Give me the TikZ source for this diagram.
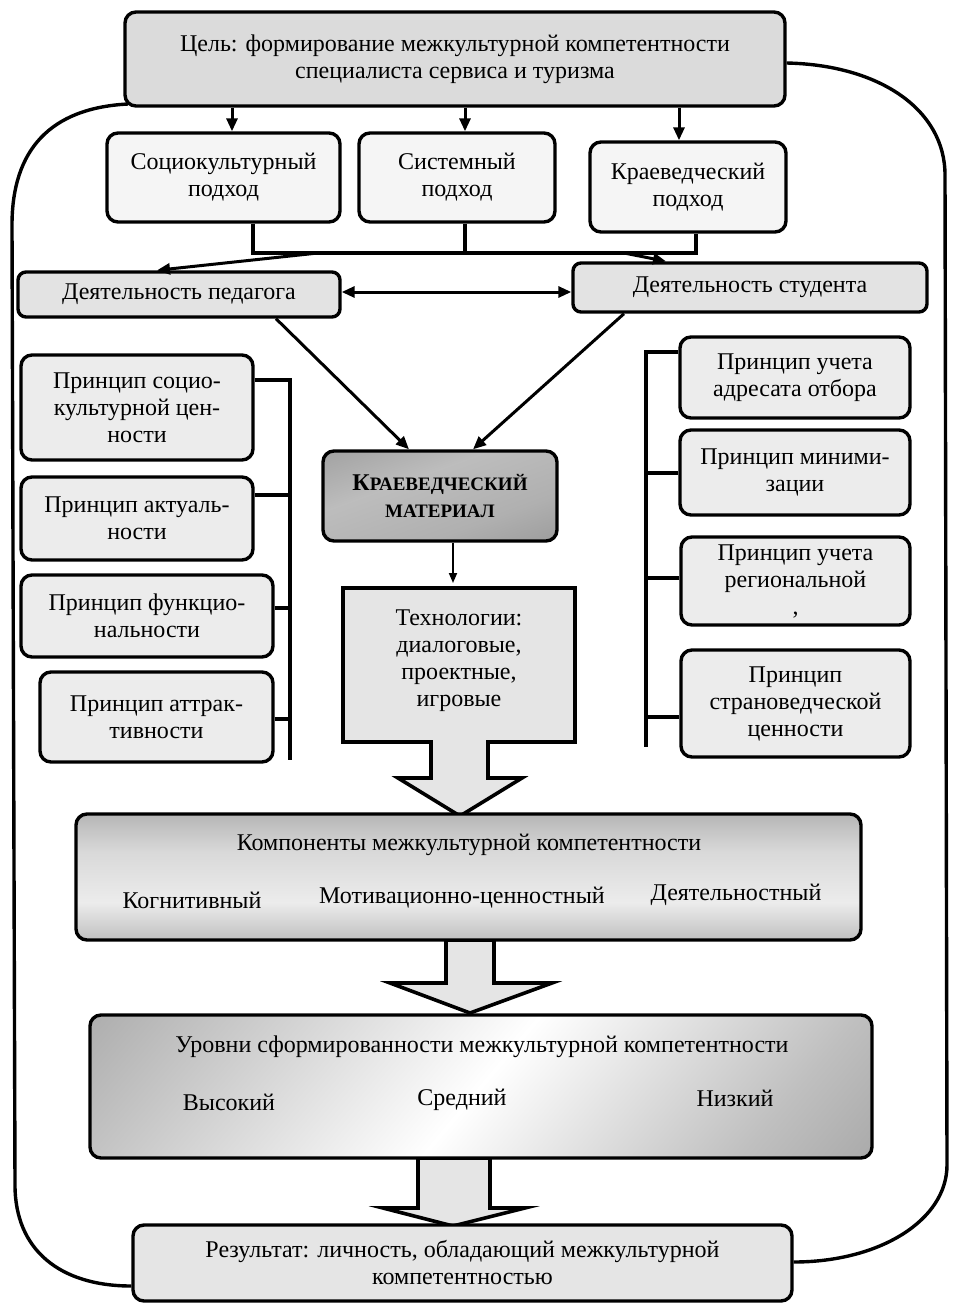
\documentclass[tikz,border=0pt]{standalone}
\usepackage{fontspec}
\setmainfont{Liberation Serif}
\usetikzlibrary{arrows.meta,calc,backgrounds}
\newcommand\fs{\fontsize{24}{27}\selectfont}
\pgfdeclareverticalshading{compsh}{100bp}{color(0bp)=(gray!95); color(15bp)=(gray!72); color(40bp)=(gray!15); color(60bp)=(gray!30); color(82bp)=(gray!70); color(100bp)=(gray!92)}
\pgfdeclareverticalshading{lvsh}{100bp}{color(0bp)=(gray!90); color(25bp)=(gray!50); color(50bp)=(white); color(72bp)=(gray!40); color(100bp)=(gray!90)}
\pgfdeclareverticalshading{matsh}{100bp}{color(0bp)=(gray!92); color(35bp)=(gray!62); color(60bp)=(gray!52); color(100bp)=(gray!90)}
\begin{document}
\begin{tikzpicture}[x=1pt,y=-1pt,
  bx/.style={draw, line width=3.4pt, rounded corners=11pt, inner sep=0pt, align=center, font=\fs},
  ln/.style={line width=3.4pt},
  arr/.style={line width=3pt, -{Triangle[length=13pt,width=11pt]}},
  thin arr/.style={line width=1.8pt, -{Triangle[length=10pt,width=8pt]}},
  blk/.style={draw, line width=3.6pt, fill=gray!20, line join=miter},
  lbl/.style={inner sep=0pt, font=\fs, align=center}]
\useasboundingbox (0,0) rectangle (956,1315);

% ---------- nodes ----------
\node[bx, fill=gray!28, minimum width=660pt, minimum height=94pt] (goal) at (455,59)
  {Цель: формирование межкультурной компетентности\\специалиста сервиса и туризма};
\node[bx, fill=gray!8, minimum width=233pt, minimum height=89pt] (a1) at (223.5,177.5) {Социокультурный\\подход};
\node[bx, fill=gray!8, minimum width=196pt, minimum height=89pt] (a2) at (457,177.5) {Системный\\подход};
\node[bx, fill=gray!8, minimum width=196pt, minimum height=90pt] (a3) at (688,187) {Краеведческий\\подход};

\node[bx, fill=gray!22, rounded corners=8pt, minimum width=322pt, minimum height=45pt] (ped) at (179,294.5) {Деятельность педагога};
\node[bx, fill=gray!22, rounded corners=8pt, minimum width=354pt, minimum height=49pt] (stu) at (750,287.5) {Деятельность студента};

\node[bx, fill=gray!15, minimum width=232pt, minimum height=105pt] (p1) at (137,407.5) {Принцип социо-\\культурной цен-\\ности};
\node[bx, fill=gray!15, minimum width=232pt, minimum height=83pt] (p2) at (137,518.5) {Принцип актуаль-\\ности};
\node[bx, fill=gray!15, minimum width=252pt, minimum height=82pt] (p3) at (147,616) {Принцип функцио-\\нальности};
\node[bx, fill=gray!15, minimum width=233pt, minimum height=90pt] (p4) at (156.5,717) {Принцип аттрак-\\тивности};

\node[bx, fill=gray!15, minimum width=230pt, minimum height=81pt] (r1) at (795,377.5) {Принцип учета\\адресата отбора};
\node[bx, fill=gray!15, minimum width=230pt, minimum height=85pt] (r2) at (795,472.5) {Принцип миними-\\зации};
\node[bx, fill=gray!15, minimum width=229pt, minimum height=88pt] (r3) at (795.5,581) {Принцип учета\\региональной\\,};
\node[bx, fill=gray!15, minimum width=229pt, minimum height=107pt] (r4) at (795.5,703.5) {Принцип\\страноведческой\\ценности};

\node[bx, shade, shading=matsh, shading angle=20, minimum width=234pt, minimum height=90pt] (mat) at (440,496)
  {\bfseries\fontsize{24}{28}\selectfont К\fontsize{19}{28}\selectfont РАЕВЕДЧЕСКИЙ\\\bfseries\fontsize{19}{28}\selectfont МАТЕРИАЛ};

\node[lbl] (tech) at (459,661) {Технологии:\\диалоговые,\\проектные,\\игровые};

\node[bx, shade, shading=compsh, minimum width=785pt, minimum height=126pt] (comp) at (468.5,877) {};
\node[lbl] (compT) at (469,845) {Компоненты межкультурной компетентности};
\node[lbl] (c1) at (192,900) {Когнитивный};
\node[lbl] (c2) at (462,898) {Мотивационно-ценностный};
\node[lbl] (c3) at (736,895) {Деятельностный};

\node[bx, shade, shading=lvsh, shading angle=50, minimum width=782pt, minimum height=143pt] (lev) at (481,1086.5) {};
\node[lbl] (levT) at (482,1047) {Уровни сформированности межкультурной компетентности};
\node[lbl] (l1) at (229,1102) {Высокий};
\node[lbl] (l2) at (462,1100) {Средний};
\node[lbl] (l3) at (735,1098) {Низкий};

\node[bx, fill=gray!20, minimum width=659pt, minimum height=76pt] (res) at (462.5,1263)
  {Результат: личность, обладающий межкультурной\\компетентностью};

% ---------- background: loop and block arrows ----------
\begin{scope}[on background layer]
  \draw[ln] (128,104) .. controls (50,108) and (12,150) .. (12,225) -- (15,1185)
     .. controls (15,1250) and (60,1286) .. (res.west |- 0,1286);
  \draw[ln] (goal.east |- 0,63) .. controls (880,65) and (945,110) .. (945,175) -- (947,1165)
     .. controls (947,1220) and (880,1262) .. (res.east |- 0,1262);
  \draw[blk] (343,588) -- (575,588) -- (575,742) -- (488,742) -- (488,778) -- (522,778)
     -- (460,816) -- (398,778) -- (431,778) -- (431,742) -- (343,742) -- cycle;
  \draw[blk] (446,940) -- (446,983) -- (390,983) -- (470,1013) -- (552,983) -- (494,983) -- (494,940) -- cycle;
  \draw[blk] (418,1158) -- (418,1208) -- (383,1208) -- (453,1226) -- (525,1208) -- (490,1208) -- (490,1158) -- cycle;
\end{scope}

% ---------- connectors ----------
\draw[arr] (goal.south -| 232,0) -- (232,0 |- a1.north);
\draw[arr] (goal.south -| 465,0) -- (465,0 |- a2.north);
\draw[arr] (goal.south -| 679,0) -- (679,0 |- a3.north);

\draw[ln] (a1.south -| 253,0) -- (253,253) -- (696,253) -- (a3.south -| 696,0);
\draw[ln] (a2.south -| 465,0) -- (465,253);
\coordinate (sL) at (318,253);
\coordinate (sR) at (624,253);
\draw[arr] (sL) -- (ped.north -| 157,0);
\draw[arr] (sR) -- (stu.north -| 666,0);

\draw[line width=3pt, {Triangle[length=13pt,width=11pt]}-{Triangle[length=13pt,width=11pt]}]
  (ped.east |- 0,292) -- (stu.west |- 0,292);

\draw[arr] (ped.south -| 276,0) -- (mat.north -| 409,0);
\draw[arr] (stu.south -| 624,0) -- (mat.north -| 473,0);

\draw[thin arr] (mat.south -| 453,0) -- (453,583);

% left bracket
\draw[ln] (p1.east |- 0,380) -- (290,380) -- (290,760);
\draw[ln] (p2.east |- 0,495) -- (290,495);
\draw[ln] (p3.east |- 0,608) -- (290,608);
\draw[ln] (p4.east |- 0,719) -- (290,719);
% right bracket
\draw[ln] (r1.west |- 0,352) -- (646,352) -- (646,747);
\draw[ln] (r2.west |- 0,473) -- (646,473);
\draw[ln] (r3.west |- 0,578) -- (646,578);
\draw[ln] (r4.west |- 0,717) -- (646,717);
\end{tikzpicture}
\end{document}
